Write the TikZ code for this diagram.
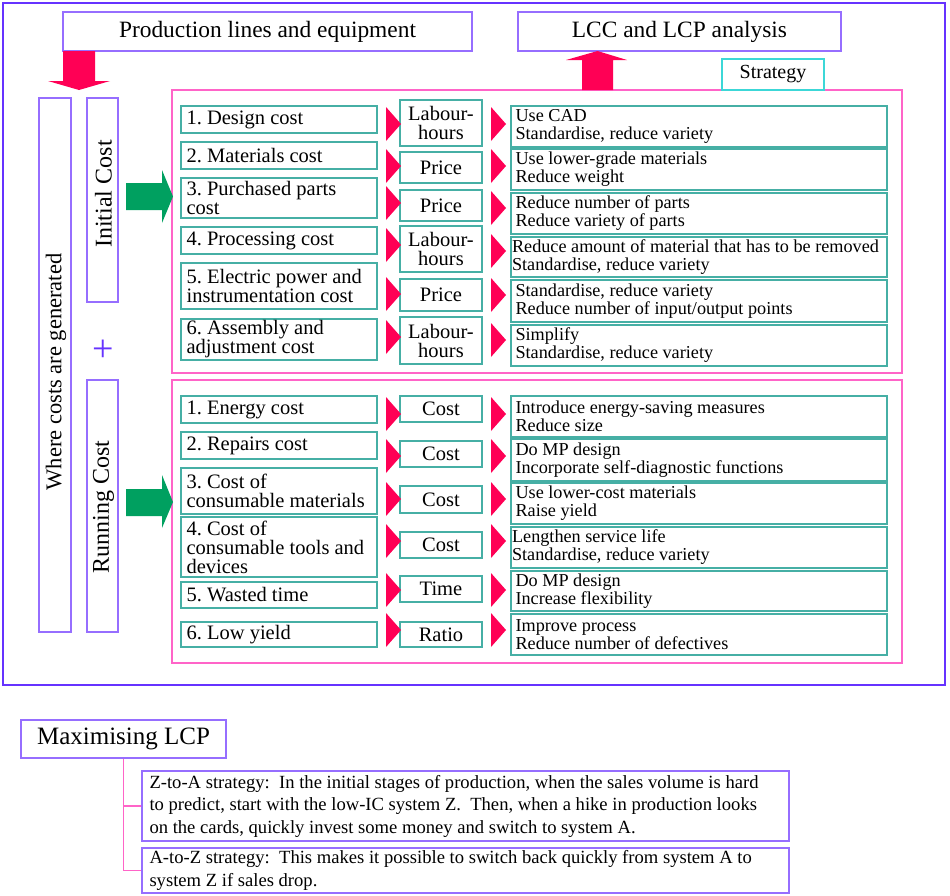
\documentclass[tikz,border=0pt]{standalone}
\usepackage{fontspec}
\setmainfont{Liberation Serif}
\frenchspacing
\definecolor{outerc}{RGB}{102,51,255}
\definecolor{violetc}{RGB}{150,110,255}
\definecolor{pinkc}{RGB}{255,100,200}
\definecolor{tealc}{RGB}{70,175,165}
\definecolor{cyanc}{RGB}{60,215,215}
\definecolor{redc}{RGB}{255,0,85}
\definecolor{greenc}{RGB}{0,160,96}
% box with left-aligned text: name, boxstyle, textstyle, pad, x1, y1, x2, y2, text
\newcommand\bx[9]{%
  \pgfmathsetmacro\myBW{#7-#5}\pgfmathsetmacro\myBH{#8-#6}%
  \node[#2, inner sep=0pt, minimum width=\myBW pt, minimum height=\myBH pt] (#1) at ({(#5+#7)/2},{(#6+#8)/2}) {};
  \node[#3, inner sep=0pt, anchor=west, align=left] (#1t) at ([xshift=#4pt]#1.west) {#9};}
% box with centred text: name, style, x1, y1, x2, y2, text
\newcommand\cbx[7]{%
  \pgfmathsetmacro\myBW{#5-#3}\pgfmathsetmacro\myBH{#6-#4}%
  \node[#2, inner sep=0pt, align=center, minimum width=\myBW pt, minimum height=\myBH pt] (#1) at ({(#3+#5)/2},{(#4+#6)/2}) {#7};}
\newcommand\tri[3]{\fill[redc] (#2,#3-17) -- (#2+15,#3) -- (#2,#3+17) -- cycle; \coordinate (#1) at (#2+15,#3);}
\begin{document}
\begin{tikzpicture}[x=1pt,y=-1pt,
  oframe/.style={draw=outerc, line width=1.8pt},
  pframe/.style={draw=pinkc, line width=1.4pt},
  tbox/.style={draw=violetc, line width=1.4pt, fill=white, font=\fontsize{23.4}{24}\selectfont},
  vbox/.style={draw=violetc, line width=1.4pt},
  sbox/.style={draw=cyanc, line width=1.4pt, fill=white, font=\fontsize{20}{20}\selectfont},
  tealbox/.style={draw=tealc, line width=1.3pt},
  ltext/.style={font=\fontsize{20.5}{19}\selectfont},
  mbox/.style={draw=tealc, line width=1.3pt, font=\fontsize{20.5}{19}\selectfont},
  rtext/.style={font=\fontsize{18.2}{18}\selectfont},
  bbox/.style={draw=violetc, line width=1.4pt},
  btext/.style={font=\fontsize{18.6}{22.5}\selectfont},
  vtext/.style={rotate=90, font=\fontsize{22.5}{24}\selectfont},
  conn/.style={draw=pinkc, line width=1.4pt}
]
\useasboundingbox (0,0) rectangle (950,895);
% frames
\cbx{outer}{oframe}{3}{3}{945}{685}{}
\cbx{ini}{pframe}{172}{90}{902}{373}{}
\cbx{run}{pframe}{172}{380}{902}{663}{}
% titles
\cbx{prod}{tbox}{63}{12}{472}{51}{Production lines and equipment}
\cbx{lcc}{tbox}{518}{12}{841}{51}{LCC and LCP analysis}
\cbx{strat}{sbox}{722}{59}{824}{90}{Strategy}
% block arrows
\fill[redc] (63,51) -- (95,51) -- (95,81) -- (110,81) -- (79,90) -- (48,81) -- (63,81) -- cycle;
\fill[redc] (582,90) -- (613,90) -- (613,60) -- (627,60) -- (597.5,51) -- (566,60) -- (582,60) -- cycle;
\fill[greenc] (126,183) -- (162,183) -- (162,170) -- (173,196.5) -- (162,223) -- (162,210) -- (126,210) -- cycle;
\fill[greenc] (126,489) -- (162,489) -- (162,475) -- (173,502) -- (162,528) -- (162,516) -- (126,516) -- cycle;
% vertical boxes
\cbx{where}{vbox}{39}{98}{71}{632}{}
\cbx{initc}{vbox}{87}{98}{118}{302}{}
\cbx{runc}{vbox}{87}{380}{118}{632}{}
\node[vtext] (wheret) at (56,372) {Where costs are generated};
\node[vtext, font=\fontsize{24}{24}\selectfont] (initt) at (103.5,194) {Initial Cost};
\node[vtext, font=\fontsize{24}{24}\selectfont] (runt) at (103.5,507) {Running Cost};
\node[text=outerc, inner sep=0pt, font=\fontsize{38}{38}\selectfont] (plus) at (103,351) {+};
% initial cost rows
\bx{il1}{tealbox}{ltext}{6}{181}{106}{377}{133}{1. Design cost}
\bx{il2}{tealbox}{ltext}{6}{181}{142}{377}{169}{2. Materials cost}
\bx{il3}{tealbox}{ltext}{6}{181}{178}{377}{218}{3. Purchased parts\\cost}
\bx{il4}{tealbox}{ltext}{6}{181}{227}{377}{254}{4. Processing cost}
\bx{il5}{tealbox}{ltext}{6}{181}{263}{377}{309}{5. Electric power and\\instrumentation cost}
\bx{il6}{tealbox}{ltext}{6}{181}{319}{377}{360}{6. Assembly and\\adjustment cost}
\cbx{im1}{mbox}{400}{100}{482}{146}{Labour-\\hours}
\cbx{im2}{mbox}{400}{152}{482}{183}{Price}
\cbx{im3}{mbox}{400}{190}{482}{221}{Price}
\cbx{im4}{mbox}{400}{226}{482}{272}{Labour-\\hours}
\cbx{im5}{mbox}{400}{279}{482}{311}{Price}
\cbx{im6}{mbox}{400}{317}{482}{364}{Labour-\\hours}
\bx{ir1}{tealbox}{rtext}{5}{511}{106}{887}{147}{Use CAD\\Standardise, reduce variety}
\bx{ir2}{tealbox}{rtext}{5}{511}{149}{887}{190}{Use lower-grade materials\\Reduce weight}
\bx{ir3}{tealbox}{rtext}{5}{511}{193}{887}{234}{Reduce number of parts\\Reduce variety of parts}
\bx{ir4}{tealbox}{rtext}{1.5}{511}{237}{887}{277}{Reduce amount of material that has to be removed\\Standardise, reduce variety}
\bx{ir5}{tealbox}{rtext}{5}{511}{280}{887}{322}{Standardise, reduce variety\\Reduce number of input/output points}
\bx{ir6}{tealbox}{rtext}{5}{511}{325}{887}{366}{Simplify\\Standardise, reduce variety}
\tri{ita1}{386}{124}\tri{ita2}{386}{166}\tri{ita3}{386}{203}
\tri{ita4}{386}{245}\tri{ita5}{386}{294}\tri{ita6}{386}{337}
\tri{itb1}{491}{124}\tri{itb2}{491}{166}\tri{itb3}{491}{208}
\tri{itb4}{491}{251}\tri{itb5}{491}{295}\tri{itb6}{491}{340}
% running cost rows
\bx{rl1}{tealbox}{ltext}{6}{181}{396}{377}{423}{1. Energy cost}
\bx{rl2}{tealbox}{ltext}{6}{181}{432}{377}{459}{2. Repairs cost}
\bx{rl3}{tealbox}{ltext}{6}{181}{468}{377}{514}{3. Cost of\\consumable materials}
\bx{rl4}{tealbox}{ltext}{6}{181}{517}{377}{577}{4. Cost of\\consumable tools and\\devices}
\bx{rl5}{tealbox}{ltext}{6}{181}{582}{377}{608}{5. Wasted time}
\bx{rl6}{tealbox}{ltext}{6}{181}{622}{377}{647}{6. Low yield}
\cbx{rm1}{mbox}{400}{396}{482}{422}{Cost}
\cbx{rm2}{mbox}{400}{441}{482}{467}{Cost}
\cbx{rm3}{mbox}{400}{486}{482}{513}{Cost}
\cbx{rm4}{mbox}{400}{532}{482}{558}{Cost}
\cbx{rm5}{mbox}{400}{576}{482}{602}{Time}
\cbx{rm6}{mbox}{400}{622}{482}{647}{Ratio}
\bx{rr1}{tealbox}{rtext}{5}{511}{396}{887}{437}{Introduce energy-saving measures\\Reduce size}
\bx{rr2}{tealbox}{rtext}{5}{511}{439}{887}{481}{Do MP design\\Incorporate self-diagnostic functions}
\bx{rr3}{tealbox}{rtext}{5}{511}{483}{887}{524}{Use lower-cost materials\\Raise yield}
\bx{rr4}{tealbox}{rtext}{1.5}{511}{527}{887}{568}{Lengthen service life\\Standardise, reduce variety}
\bx{rr5}{tealbox}{rtext}{5}{511}{571}{887}{611}{Do MP design\\Increase flexibility}
\bx{rr6}{tealbox}{rtext}{5}{511}{614}{887}{655}{Improve process\\Reduce number of defectives}
\tri{rta1}{386}{414}\tri{rta2}{386}{456}\tri{rta3}{386}{499}
\tri{rta4}{386}{541}\tri{rta5}{386}{590}\tri{rta6}{386}{630}
\tri{rtb1}{491}{414}\tri{rtb2}{491}{456}\tri{rtb3}{491}{499}
\tri{rtb4}{491}{541}\tri{rtb5}{491}{590}\tri{rtb6}{491}{630}
% bottom part
\cbx{max}{tbox,font=\fontsize{25}{26}\selectfont}{21}{720}{226}{758}{Maximising LCP}
\bx{za}{bbox}{btext}{8}{142}{771}{789}{841}{Z-to-A strategy:\ \ In the initial stages of production, when the sales volume is hard\\to predict, start with the low-IC system Z.\ \ Then, when a hike in production looks\\on the cards, quickly invest some money and switch to system A.}
\bx{az}{bbox}{btext}{8}{142}{848}{789}{893}{A-to-Z strategy:\ \ This makes it possible to switch back quickly from system A to\\system Z if sales drop.}
\draw[conn] (max.south) |- (za.west);
\draw[conn] (max.south) |- (az.west);
\end{tikzpicture}
\end{document}
